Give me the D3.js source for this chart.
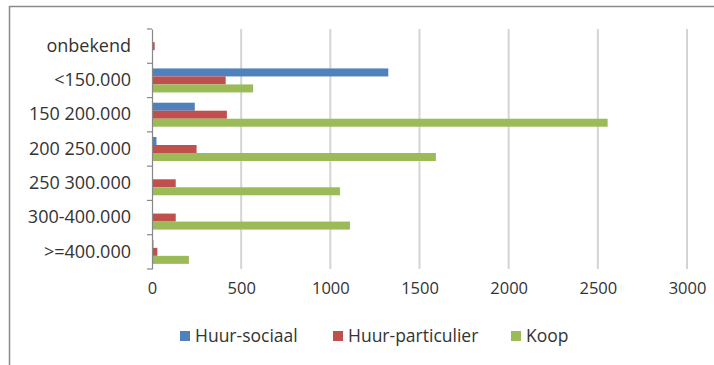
<!DOCTYPE html>
<html>
<head>
<meta charset="utf-8">
<script src="https://cdn.jsdelivr.net/npm/d3@7"></script>
<style>
  html, body { margin: 0; padding: 0; background: #fff; }
  svg { display: block; }
  text { font-family: "Open Sans", "Liberation Sans", sans-serif; fill: #333; }
</style>
</head>
<body>
<svg id="chart" width="714" height="365"></svg>
<script>
// Price classes (top to bottom) and number of dwellings per tenure type
const categories = ["onbekend", "<150.000", "150 200.000", "200 250.000", "250 300.000", "300-400.000", ">=400.000"];
const seriesNames = ["Huur-sociaal", "Huur-particulier", "Koop"];
const huurSociaal = [0, 1325, 240, 25, 0, 0, 8];
const huurParticulier = [15, 413, 420, 250, 133, 133, 30];
const koop = [5, 567, 2555, 1592, 1054, 1110, 207];
const xTicks = [0, 500, 1000, 1500, 2000, 2500, 3000];
const colors = ["#4f81bd", "#c0504d", "#9bbb59"];

const values = [huurSociaal, huurParticulier, koop];
const svg = d3.select("#chart");

const plot = { left: 152, right: 687, top: 29, bottom: 269 };

const x = d3.scaleLinear().domain([0, 3000]).range([plot.left, plot.right]);
const y = d3.scaleBand().domain(categories).range([plot.top, plot.bottom]).paddingInner(0.3).paddingOuter(0.15);
const ySub = d3.scaleBand().domain(seriesNames).range([0, y.bandwidth()]);

// outer frame lines
svg.append("line").attr("x1", 9.5).attr("x2", 714).attr("y1", 6.5).attr("y2", 6.5)
  .attr("stroke", "#8a8a8a").attr("stroke-width", 1.5);
svg.append("line").attr("x1", 9.5).attr("x2", 9.5).attr("y1", 6).attr("y2", 365)
  .attr("stroke", "#8a8a8a").attr("stroke-width", 1.5);

// vertical gridlines
svg.append("g").selectAll("line").data(xTicks.slice(1)).join("line")
  .attr("x1", d => x(d)).attr("x2", d => x(d))
  .attr("y1", plot.top).attr("y2", plot.bottom)
  .attr("stroke", "#d4d4d4").attr("stroke-width", 2);

// value axis labels
const xAxis = svg.append("g").attr("transform", `translate(0,${plot.bottom})`)
  .call(d3.axisBottom(x).tickValues(xTicks).tickFormat(d3.format("d")).tickSize(0).tickPadding(13));
xAxis.select(".domain").remove();
xAxis.selectAll("text").style("font-size", "16.5px").attr("fill", "#333");

// bars
const groups = svg.append("g").selectAll("g").data(categories).join("g")
  .attr("transform", d => `translate(0,${y(d)})`);
groups.selectAll("rect")
  .data((c, i) => seriesNames.map((s, j) => ({ s, v: values[j][i], j })))
  .join("rect")
  .attr("x", x(0))
  .attr("y", d => ySub(d.s))
  .attr("width", d => x(d.v) - x(0))
  .attr("height", ySub.bandwidth())
  .attr("fill", d => colors[d.j]);

// category axis
const step = (plot.bottom - plot.top) / categories.length;
const yAxis = svg.append("g").attr("transform", `translate(${plot.left},0)`)
  .call(d3.axisLeft(y).tickSize(0).tickPadding(21));
yAxis.select(".domain").attr("stroke", "#888").attr("stroke-width", 1.2);
yAxis.selectAll("text").style("font-size", "18px").attr("fill", "#333");
svg.append("g").selectAll("line").data(d3.range(categories.length + 1)).join("line")
  .attr("x1", plot.left - 5).attr("x2", plot.left)
  .attr("y1", i => plot.top + i * step).attr("y2", i => plot.top + i * step)
  .attr("stroke", "#888").attr("stroke-width", 1.2);

// legend
const legendX = [180, 333, 511];
const legend = svg.append("g").selectAll("g").data(seriesNames).join("g")
  .attr("transform", (d, i) => `translate(${legendX[i]},336)`);
legend.append("rect").attr("x", 0).attr("y", -5).attr("width", 10).attr("height", 10)
  .attr("fill", (d, i) => colors[i]);
legend.append("text").attr("x", 15).attr("y", 0).attr("dy", "0.35em")
  .style("font-size", "17.5px").text(d => d);
</script>
</body>
</html>
